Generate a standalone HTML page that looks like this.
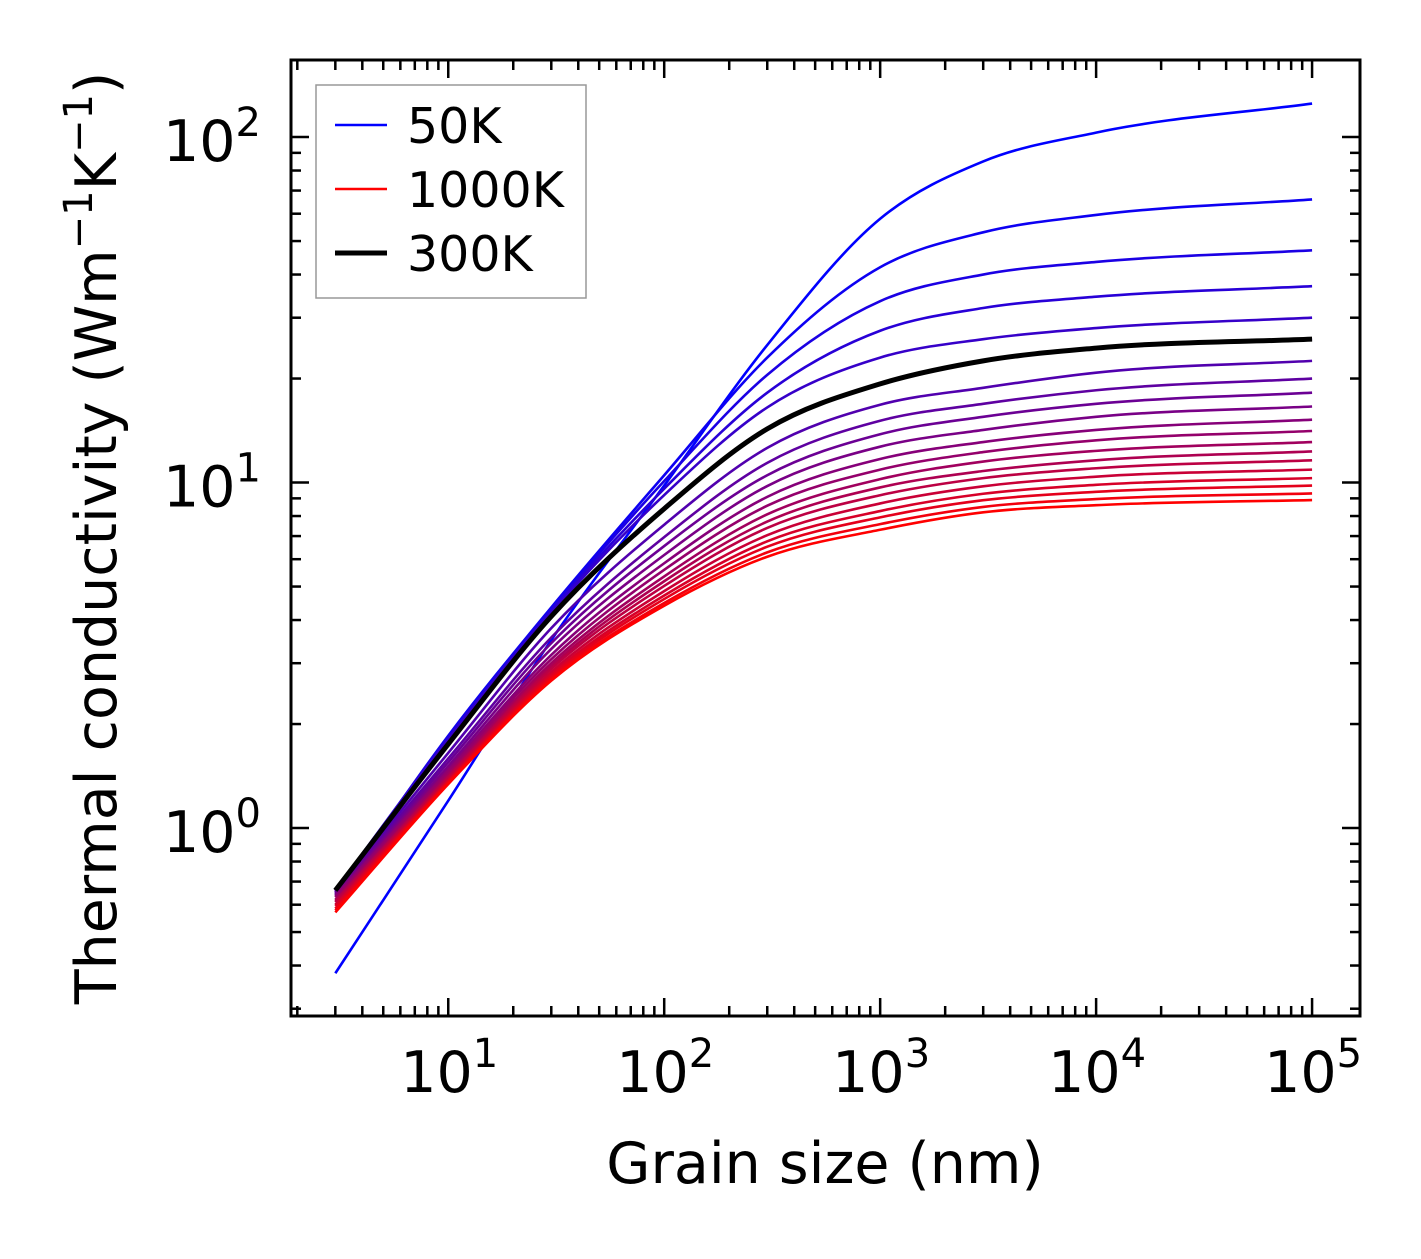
<!DOCTYPE html>
<html><head><meta charset="utf-8"><style>
body{margin:0;background:#fff}
svg text{font-family:"DejaVu Sans","Liberation Sans",sans-serif;fill:#000}
</style></head><body>
<svg id="chart" width="1421" height="1254" xmlns="http://www.w3.org/2000/svg">
</svg>
<script>
const grainSizes = [3, 10, 30, 100, 300, 1000, 3000, 10000, 100000];
const temperatures = [50,100,150,200,250,300,350,400,450,500,550,600,650,700,750,800,850,900,950,1000];
const k50 = [0.38,1.2,3.5,9.8,25,58,85,103,125];
const k100 = [0.64,1.85,4.35,10.5,23,42,53,59.5,66];
const k150 = [0.65,1.83,4.3,10.1,20.5,33.5,40,43.5,47];
const k200 = [0.66,1.82,4.25,9.6,18.2,27.5,32,34.5,37];
const k250 = [0.66,1.8,4.2,9.2,16.5,23,26,28,30];
const k300 = [0.66,1.75,4.1,8.4,14.3,19.3,22.5,24.5,26];
const k350 = [0.655,1.65,3.79,7.55,12.6,16.8,18.8,20.8,22.5];
const k400 = [0.65,1.59,3.56,6.95,11.4,15.1,16.9,18.5,20];
const k450 = [0.645,1.55,3.43,6.55,10.5,13.8,15.5,16.9,18.2];
const k500 = [0.64,1.51,3.30,6.17,9.77,12.7,14.2,15.5,16.6];
const k550 = [0.635,1.48,3.17,5.84,9.09,11.7,13.1,14.2,15.2];
const k600 = [0.63,1.46,3.08,5.59,8.57,10.9,12.25,13.25,14.1];
const k650 = [0.62,1.43,3.0,5.35,8.09,10.23,11.5,12.35,13.1];
const k700 = [0.615,1.41,2.94,5.18,7.71,9.68,10.8,11.6,12.3];
const k750 = [0.61,1.40,2.89,5.02,7.39,9.19,10.3,11.0,11.6];
const k800 = [0.60,1.38,2.83,4.85,7.04,8.7,9.75,10.4,10.9];
const k850 = [0.595,1.37,2.78,4.71,6.76,8.27,9.28,9.85,10.3];
const k900 = [0.585,1.36,2.74,4.6,6.52,7.93,8.89,9.4,9.8];
const k950 = [0.578,1.35,2.70,4.48,6.28,7.58,8.5,8.96,9.3];
const k1000 = [0.57,1.34,2.67,4.4,6.1,7.3,8.2,8.6,8.9];
const series = [k50,k100,k150,k200,k250,k300,k350,k400,k450,k500,k550,k600,k650,k700,k750,k800,k850,k900,k950,k1000];
const xTickExps = [1,2,3,4,5];
const yTickExps = [0,1,2];

const NS='http://www.w3.org/2000/svg';
const L=291,R=1360,T=60,B=1016;
const xd0=Math.log10(1.87), xd1=Math.log10(166700);
const yd0=-0.544, yd1=2.223;
const xs=v=>L+(Math.log10(v)-xd0)/(xd1-xd0)*(R-L);
const ys=v=>B-(Math.log10(v)-yd0)/(yd1-yd0)*(B-T);
const svg=document.getElementById('chart');
function mk(tag,attrs,parent){const e=document.createElementNS(NS,tag);for(const k in attrs)e.setAttribute(k,attrs[k]);(parent||svg).appendChild(e);return e;}

function pathFor(vals){
  const X=grainSizes.map(xs), Y=vals.map(ys), n=X.length;
  const d=[],m=[],h=[];
  for(let i=0;i<n-1;i++){h.push(X[i+1]-X[i]);d.push((Y[i+1]-Y[i])/h[i]);}
  m[0]=d[0];m[n-1]=d[n-2];
  for(let i=1;i<n-1;i++)m[i]=(d[i-1]*h[i]+d[i]*h[i-1])/(h[i-1]+h[i]);
  let p='M'+X[0]+','+Y[0];
  for(let i=0;i<n-1;i++){
    const s=h[i]/3;
    p+=`C${X[i]+s},${Y[i]+m[i]*s} ${X[i+1]-s},${Y[i+1]-m[i+1]*s} ${X[i+1]},${Y[i+1]}`;
  }
  return p;
}
const clip=mk('clipPath',{id:'cp'});mk('rect',{x:L,y:T,width:R-L,height:B-T},clip);
const g=mk('g',{'clip-path':'url(#cp)'});


series.forEach((vals,i)=>{
  const f=i/(series.length-1);
  const c=`rgb(${Math.round(255*f)},0,${Math.round(255*(1-f))})`;
  const p=mk('path',{d:pathFor(vals),fill:'none',stroke:c,'stroke-width':2.6},g);
  
  
});
const bi=temperatures.indexOf(300);
const blk=mk('path',{d:pathFor(series[bi]),fill:'none',stroke:'#000','stroke-width':5},g);



const tk=mk('g',{stroke:'#000','stroke-width':2.5});


for(let e=0;e<=5;e++)for(let m=1;m<10;m++){
  const v=m*Math.pow(10,e),x=xs(v);
  if(x<L+1||x>R-1)continue;
  const len=m===1?18:10;
  mk('line',{x1:x,x2:x,y1:B,y2:B-len},tk);mk('line',{x1:x,x2:x,y1:T,y2:T+len},tk);
}
for(let e=-1;e<=2;e++)for(let m=1;m<10;m++){
  const v=m*Math.pow(10,e),y=ys(v);
  if(y<T+1||y>B-1)continue;
  const len=m===1?18:10;
  mk('line',{x1:L,x2:L+len,y1:y,y2:y},tk);mk('line',{x1:R,x2:R-len,y1:y,y2:y},tk);
}
xTickExps.forEach(e=>{
  const t=mk('text',{x:xs(Math.pow(10,e))+1,y:1092,'font-size':57,'text-anchor':'middle'});
  
  
  t.innerHTML='10<tspan dy="-25" font-size="40">'+e+'</tspan>';
});
yTickExps.forEach(e=>{
  const t=mk('text',{x:212,y:ys(Math.pow(10,e))+24,'font-size':57,'text-anchor':'middle'});
  
  
  t.innerHTML='10<tspan dy="-25" font-size="40">'+e+'</tspan>';
});
const fr=mk('rect',{x:L,y:T,width:R-L,height:B-T,fill:'none',stroke:'#000','stroke-width':3});


</script>
<svg style="position:absolute;left:0;top:0" width="1421" height="1254">
<text x="825" y="1183" font-size="57" text-anchor="middle">Grain size (nm)</text>
<text transform="translate(116,538) rotate(-90)" font-size="57" text-anchor="middle">Thermal conductivity (Wm<tspan dy="-24" font-size="40">−1</tspan><tspan dy="24">K</tspan><tspan dy="-24" font-size="40">−1</tspan><tspan dy="24">)</tspan></text>
<g>
<rect x="316" y="85" width="270" height="213" fill="#fff" fill-opacity="0.8" stroke="#999" stroke-width="1.5"/>
<line x1="335" x2="387" y1="125" y2="125" stroke="#00f" stroke-width="2.6"/>
<text x="407" y="143" font-size="49">50K</text>
<line x1="335" x2="387" y1="189" y2="189" stroke="#f00" stroke-width="2.6"/>
<text x="407" y="207" font-size="49">1000K</text>
<line x1="335" x2="387" y1="253" y2="253" stroke="#000" stroke-width="5"/>
<text x="407" y="271" font-size="49">300K</text>
</g>
</svg>
</body></html>
